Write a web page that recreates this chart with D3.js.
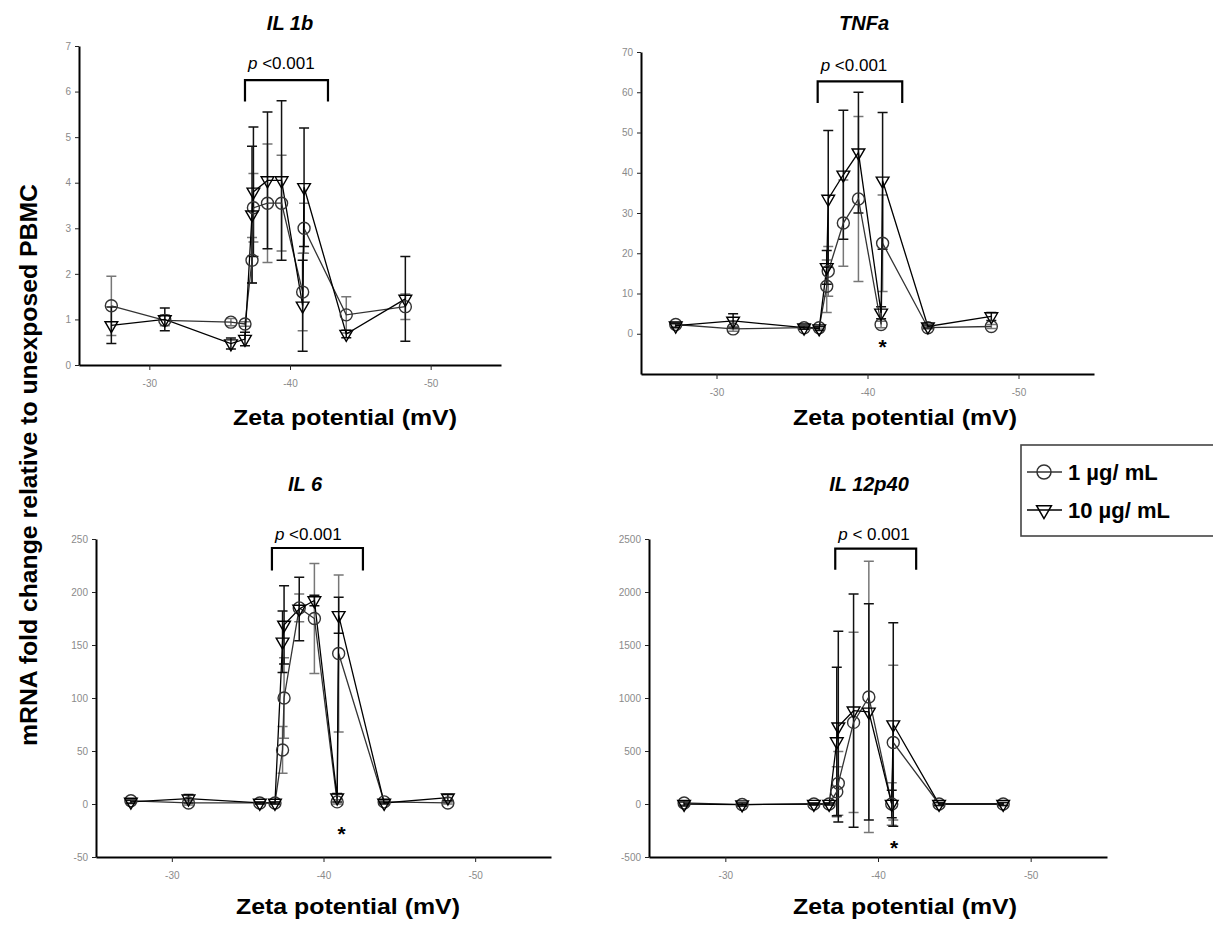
<!DOCTYPE html>
<html><head><meta charset="utf-8">
<script src="https://cdn.jsdelivr.net/npm/d3@7"></script>
<style>
body{margin:0;background:#fff}
svg{display:block;font-family:"Liberation Sans",Arial,sans-serif}
</style>
</head><body>
<svg id="c" width="1213" height="925"></svg>
<script>
// ---------------- DATA ----------------
// zeta potential (mV) of each particle, in drawing order
const zeta = [-27.3, -31.1, -35.8, -36.8, -37.3, -37.4, -38.4, -39.4, -40.9, -41.0, -44.0, -48.2];
const xTickValues = [-30, -40, -50];
const seriesNames = ["1 \u00b5g/ mL", "10 \u00b5g/ mL"];

// IL 1b
const il1b_1     = [1.30, 0.98, 0.94, 0.90, 2.30, 3.45, 3.55, 3.55, 1.60, 3.00, 1.10, 1.28];
const il1b_1_sd  = [0.65, 0.12, 0.08, 0.05, 0.50, 0.75, 1.30, 1.05, 0.85, 0.55, 0.40, 0.28];
const il1b_10    = [0.87, 1.00, 0.47, 0.57, 3.30, 3.80, 4.05, 4.05, 1.30, 3.90, 0.68, 1.45];
const il1b_10_sd = [0.40, 0.25, 0.12, 0.15, 1.50, 1.42, 1.50, 1.75, 1.00, 1.30, 0.08, 0.93];
const il1b_ticks = [0, 1, 2, 3, 4, 5, 6, 7];

// TNFa
const tnfa_1     = [2.3, 1.2, 1.5, 1.5, 11.8, 15.5, 27.5, 33.5, 2.3, 22.5, 1.5, 1.8];
const tnfa_1_sd  = [0.5, 0.6, 0.3, 0.3, 6.5, 6.2, 10.7, 20.5, 0.8, 12.0, 0.3, 0.5];
const tnfa_10    = [2.0, 3.2, 1.5, 1.3, 16.5, 33.5, 39.5, 45.0, 5.2, 38.0, 1.8, 4.3];
const tnfa_10_sd = [0.5, 1.8, 0.4, 0.5, 4.2, 17.0, 16.0, 15.0, 1.5, 17.0, 0.4, 1.0];
const tnfa_ticks = [0, 10, 20, 30, 40, 50, 60, 70];

// IL 6
const il6_1     = [3, 1, 1, 1, 51, 100, 185, 175, 2, 142, 2, 1];
const il6_1_sd  = [1.5, 2, 1, 1, 22, 38, 13, 52, 2, 74, 1, 1];
const il6_10    = [2, 5, 1, 1, 153, 169, 184, 192, 6, 178, 1, 6];
const il6_10_sd = [1.5, 4, 1, 1, 29, 37, 30, 5, 4, 17, 1, 3];
const il6_ticks = [-50, 0, 50, 100, 150, 200, 250];

// IL 12p40
const il12_1     = [10, -5, 0, 0, 116, 195, 770, 1010, 0, 580, 0, 0];
const il12_1_sd  = [20, 15, 10, 10, 236, 300, 850, 1280, 200, 730, 15, 15];
const il12_10    = [0, -5, 0, 0, 590, 730, 880, 870, 0, 750, 0, 0];
const il12_10_sd = [20, 15, 10, 10, 700, 900, 1100, 1020, 130, 960, 15, 15];
const il12_ticks = [-500, 0, 500, 1000, 1500, 2000, 2500];

// significance brackets: [left zeta, right zeta, top value, leg-end value, label value]
const pLabels = ["<0.001", "<0.001", "<0.001", "< 0.001"];
const bracketIL1b = [-36.8, -42.7, 6.25, 5.78, 6.5];
const bracketTNFa = [-36.7, -42.3, 62.7, 57.3, 65.2];
const bracketIL6  = [-36.6, -42.6, 241.5, 220.4, 249];
const bracketIL12 = [-37.2, -42.5, 2409, 2210, 2494];
// asterisk positions [zeta, value]
const starTNFa = [-41.0, -2];
const starIL6  = [-41.2, -24];
const starIL12 = [-41.05, -369];

// ---------------- LAYOUT ----------------
const panels = [
  {title:"IL 1b", s1:il1b_1, e1:il1b_1_sd, s10:il1b_10, e10:il1b_10_sd, yd:[0,7], yt:il1b_ticks,
   xr:[79,501], yr:[365,46], br:bracketIL1b, p:pLabels[0], star:null,
   titleX:290, titleY:30, labelX:345, labelY:425},
  {title:"TNFa", s1:tnfa_1, e1:tnfa_1_sd, s10:tnfa_10, e10:tnfa_10_sd, yd:[-10,70], yt:tnfa_ticks,
   xr:[641,1094], yr:[374,52], br:bracketTNFa, p:pLabels[1], star:starTNFa,
   titleX:864, titleY:30, labelX:905, labelY:425},
  {title:"IL 6", s1:il6_1, e1:il6_1_sd, s10:il6_10, e10:il6_10_sd, yd:[-50,250], yt:il6_ticks,
   xr:[96,551], yr:[857,539], br:bracketIL6, p:pLabels[2], star:starIL6,
   titleX:305, titleY:491, labelX:348, labelY:914},
  {title:"IL 12p40", s1:il12_1, e1:il12_1_sd, s10:il12_10, e10:il12_10_sd, yd:[-500,2500], yt:il12_ticks,
   xr:[649,1107], yr:[857,539], br:bracketIL12, p:pLabels[3], star:starIL12,
   titleX:869, titleY:491, labelX:905, labelY:914}
];

const svg = d3.select("#c");
const triSym = d3.symbol().type(d3.symbolTriangle).size(70);

function drawPanel(p) {
  const x = d3.scaleLinear().domain([-25, -55]).range(p.xr);
  const y = d3.scaleLinear().domain(p.yd).range(p.yr);
  const g = svg.append("g");

  // axes
  const xa = g.append("g").attr("transform", `translate(0,${p.yr[0]})`)
    .call(d3.axisBottom(x).tickValues(xTickValues).tickSize(5).tickSizeOuter(0).tickPadding(10).tickFormat(d => String(d)));
  const ya = g.append("g").attr("transform", `translate(${p.xr[0]},0)`)
    .call(d3.axisLeft(y).tickValues(p.yt).tickSize(4).tickSizeOuter(0).tickPadding(4).tickFormat(d => String(d)));
  [xa, ya].forEach(a => {
    a.select(".domain").attr("stroke", "#000").attr("stroke-width", 2);
    a.selectAll(".tick line").attr("stroke", "#222").attr("stroke-width", 1);
    a.selectAll(".tick text").attr("fill", "#8a8a8a").style("font-size", "10px").style("font-family", "'Liberation Sans',Arial,sans-serif");
  });

  const series = [
    {v:p.s1, e:p.e1, lineC:"#333", barC:"#777", kind:"circle"},
    {v:p.s10, e:p.e10, lineC:"#000", barC:"#111", kind:"tri"}
  ];

  // error bars
  series.forEach(s => {
    const data = zeta.map((z, i) => ({z, v:s.v[i], e:s.e[i]}));
    const eb = g.append("g").attr("stroke", s.barC).attr("stroke-width", 1.5).attr("fill", "none");
    eb.selectAll("path").data(data).join("path")
      .attr("d", d => {
        const cx = x(d.z), y1 = y(d.v + d.e), y2 = y(d.v - d.e), w = 5;
        return `M${cx},${y1}V${y2}M${cx-w},${y1}H${cx+w}M${cx-w},${y2}H${cx+w}`;
      });
  });

  // lines
  series.forEach(s => {
    const data = zeta.map((z, i) => ({z, v:s.v[i]}));
    g.append("path").datum(data)
      .attr("fill", "none").attr("stroke", s.lineC).attr("stroke-width", 1.3)
      .attr("d", d3.line().x(d => x(d.z)).y(d => y(d.v)));
  });

  // markers
  series.forEach(s => {
    const data = zeta.map((z, i) => ({z, v:s.v[i]}));
    const mg = g.append("g").attr("fill", "none").attr("stroke", s.lineC).attr("stroke-width", 1.4);
    if (s.kind === "circle") {
      mg.selectAll("circle").data(data).join("circle")
        .attr("cx", d => x(d.z)).attr("cy", d => y(d.v)).attr("r", 6);
    } else {
      mg.selectAll("path").data(data).join("path")
        .attr("d", triSym)
        .attr("transform", d => `translate(${x(d.z)},${y(d.v)}) rotate(180)`);
    }
  });

  // bracket
  const b = p.br;
  g.append("path")
    .attr("d", `M${x(b[0])},${y(b[3])}V${y(b[2])}H${x(b[1])}V${y(b[3])}`)
    .attr("fill", "none").attr("stroke", "#000").attr("stroke-width", 2.2);
  const t = g.append("text").attr("x", x(b[0]) + 3).attr("y", y(b[4]))
    .style("font-size", "17px").attr("fill", "#000");
  t.append("tspan").style("font-style", "italic").text("p");
  t.append("tspan").text(" " + p.p);

  if (p.star) {
    g.append("text").attr("x", x(p.star[0])).attr("y", y(p.star[1]) + 12)
      .attr("text-anchor", "middle").style("font-size", "21px").style("font-weight", "bold").text("*");
  }

  // title
  g.append("text").attr("x", p.titleX).attr("y", p.titleY).attr("text-anchor", "middle")
    .style("font-size", "20px").style("font-weight", "bold").style("font-style", "italic").text(p.title);
  // x axis label
  g.append("text").attr("x", p.labelX).attr("y", p.labelY).attr("text-anchor", "middle")
    .style("font-size", "22px").style("font-weight", "bold")
    .attr("textLength", 224).attr("lengthAdjust", "spacingAndGlyphs").text("Zeta potential (mV)");
}

panels.forEach(drawPanel);

// y axis title
svg.append("text").attr("transform", "translate(37,465) rotate(-90)")
  .attr("text-anchor", "middle").style("font-size", "24px").style("font-weight", "bold")
  .attr("textLength", 562).attr("lengthAdjust", "spacingAndGlyphs")
  .text("mRNA fold change relative to unexposed PBMC");

// legend
const lg = svg.append("g");
lg.append("rect").attr("x", 1021).attr("y", 445).attr("width", 200).attr("height", 91)
  .attr("fill", "#fff").attr("stroke", "#444").attr("stroke-width", 1.6);
const legendRows = [{name:seriesNames[0], kind:"circle", c:"#333"}, {name:seriesNames[1], kind:"tri", c:"#000"}];
legendRows.forEach((r, i) => {
  const cy = 472 + i * 38;
  lg.append("line").attr("x1", 1027).attr("x2", 1062).attr("y1", cy).attr("y2", cy)
    .attr("stroke", r.c).attr("stroke-width", 1.5);
  if (r.kind === "circle") {
    lg.append("circle").attr("cx", 1044).attr("cy", cy).attr("r", 7).attr("fill", "none")
      .attr("stroke", r.c).attr("stroke-width", 1.5);
  } else {
    lg.append("path").attr("d", d3.symbol().type(d3.symbolTriangle).size(95)())
      .attr("transform", `translate(1044,${cy}) rotate(180)`)
      .attr("fill", "none").attr("stroke", r.c).attr("stroke-width", 1.5);
  }
  lg.append("text").attr("x", 1068).attr("y", cy + 8).style("font-size", "22px").style("font-weight", "bold")
    .text(r.name);
});
</script>
</body></html>
